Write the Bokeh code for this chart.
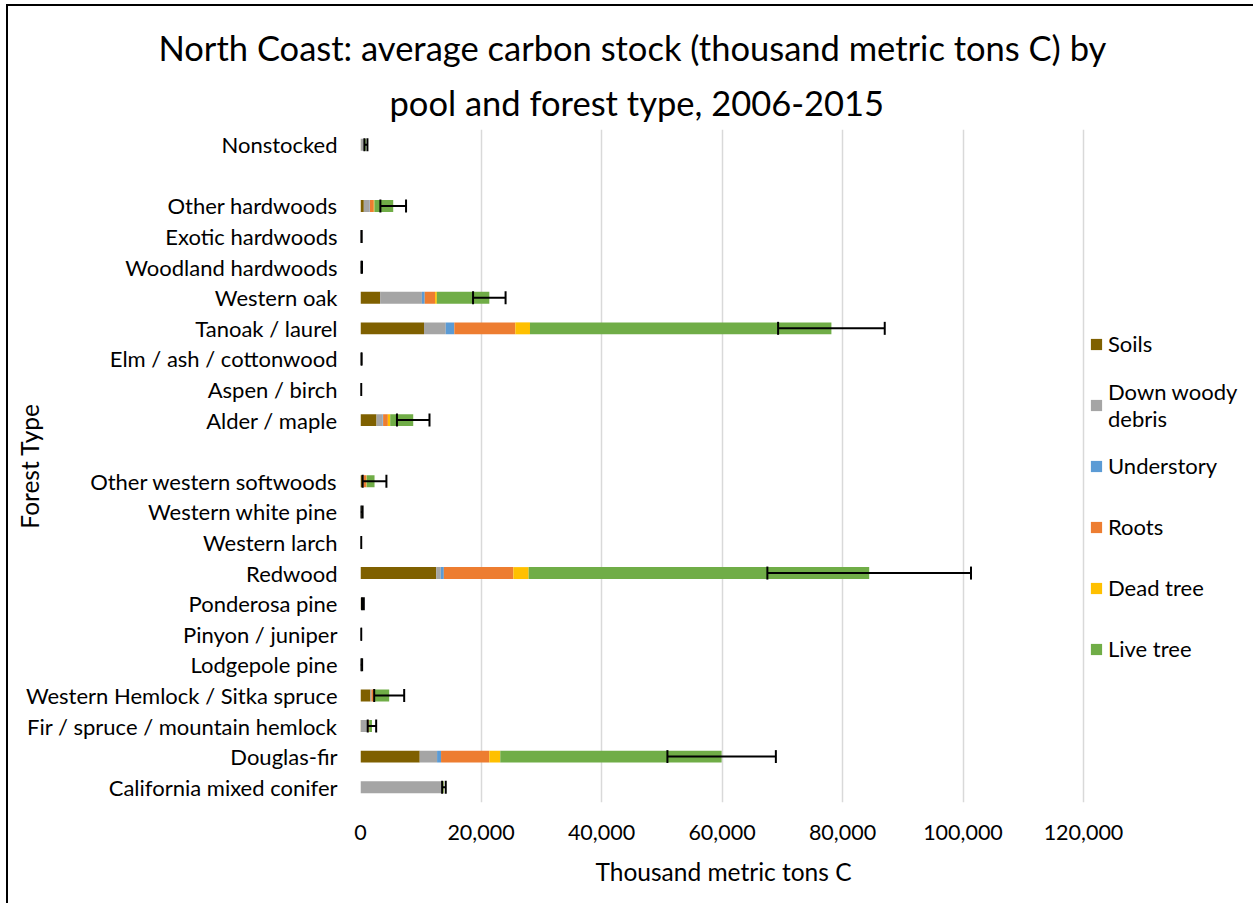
from bokeh.plotting import figure
from bokeh.models import (FactorRange, Range1d, FixedTicker, NumeralTickFormatter,
                          Whisker, ColumnDataSource, Legend, LegendItem, Title, TeeHead)
from bokeh.embed import file_html
from bokeh.resources import INLINE

# Forest types, top to bottom (" " and "  " are the empty spacer rows)
categories = ["Nonstocked", " ", "Other hardwoods", "Exotic hardwoods", "Woodland hardwoods",
              "Western oak", "Tanoak / laurel", "Elm / ash / cottonwood", "Aspen / birch",
              "Alder / maple", "  ", "Other western softwoods", "Western white pine",
              "Western larch", "Redwood", "Ponderosa pine", "Pinyon / juniper", "Lodgepole pine",
              "Western Hemlock / Sitka spruce", "Fir / spruce / mountain hemlock",
              "Douglas-fir", "California mixed conifer"]

pools = ["Soils", "Down woody debris", "Understory", "Roots", "Dead tree", "Live tree"]

soils      = [30, 0, 550, 10, 20, 3260, 10540, 10, 10, 2660, 0, 300, 20, 10, 12560, 60, 10, 20, 1660, 50, 9830, 0]
dwd        = [640, 0, 950, 90, 60, 6930, 3610, 90, 60, 990, 0, 150, 80, 60, 760, 150, 60, 60, 100, 1170, 2880, 13550]
understory = [10, 0, 60, 5, 5, 470, 1420, 5, 5, 100, 0, 30, 10, 5, 510, 10, 5, 5, 50, 30, 660, 20]
roots      = [60, 0, 650, 10, 20, 1720, 10130, 15, 10, 790, 0, 500, 30, 10, 11540, 60, 10, 20, 400, 120, 8010, 130]
dead_tree  = [20, 0, 100, 5, 5, 290, 2430, 5, 5, 390, 0, 50, 10, 5, 2540, 20, 5, 5, 50, 80, 1820, 50]
live_tree  = [140, 0, 3120, 20, 40, 8710, 50030, 25, 10, 3820, 0, 1300, 50, 10, 56520, 100, 10, 40, 2500, 450, 36740, 100]
error      = [250, 0, 2130, 60, 100, 2700, 8850, 30, 20, 2700, 0, 1970, 150, 20, 16900, 150, 20, 120, 2490, 700, 9000, 300]

x_ticks = [0, 20000, 40000, 60000, 80000, 100000, 120000]
colors = ["#7F6000", "#A5A5A5", "#5B9BD5", "#ED7D31", "#FFC000", "#70AD47"]

FONT = "Lato"

data = {"cat": categories, "Soils": soils, "Down woody debris": dwd, "Understory": understory,
        "Roots": roots, "Dead tree": dead_tree, "Live tree": live_tree}
source = ColumnDataSource(data)

# plot area 0..120,000 spans 723 px; the frame continues to the right edge to hold the legend
AXIS_PX = 723.0
FRAME_PX = 1253 - 360
x_end = x_ticks[-1] * FRAME_PX / AXIS_PX

p = figure(width=1253, height=903, output_backend="svg", toolbar_location=None,
           y_range=FactorRange(factors=list(reversed(categories))),
           x_range=Range1d(0, x_end),
           min_border_left=360, min_border_right=0, min_border_top=129, min_border_bottom=101)
p.outline_line_color = None
p.background_fill_color = "white"
p.border_fill_alpha = 0
p.styles = {"background": "linear-gradient(#000,#000) 6px 4px / 2px 2000px no-repeat, "
                          "linear-gradient(#000,#000) 6px 4px / 2000px 2px no-repeat, white"}

# title: two lines
p.title.text = "North Coast: average carbon stock (thousand metric tons C) by"
p.title.align = "left"
p.title.offset = -202
p.title.text_font = FONT
p.title.text_font_size = "34.5px"
p.title.text_font_style = "normal"
p.title.text_color = "black"
p.title.standoff = -4
p.add_layout(Title(text="pool and forest type, 2006-2015",
                   align="left", offset=29, text_font=FONT, text_font_size="34.5px",
                   text_font_style="normal", text_color="black", standoff=14), "above")
p.add_layout(Title(text=" ", text_font_size="4px", standoff=0), "above")

renderers = p.hbar_stack(pools, y="cat", height=0.39, color=colors, source=source, line_color=None)

totals = [a + b + c + d + e + f for a, b, c, d, e, f in zip(soils, dwd, understory, roots, dead_tree, live_tree)]
wcat, lo, hi = [], [], []
for c, t, e in zip(categories, totals, error):
    if e > 0:
        wcat.append(c)
        lo.append(t - e)
        hi.append(t + e)
wsrc = ColumnDataSource({"cat": wcat, "lower": lo, "upper": hi})
wh = Whisker(base="cat", lower="lower", upper="upper", dimension="width", source=wsrc,
             line_color="black", line_width=2, level="annotation",
             upper_head=TeeHead(size=13, line_width=2, line_color="black"),
             lower_head=TeeHead(size=13, line_width=2, line_color="black"))
p.add_layout(wh)

# axes
p.xaxis.ticker = FixedTicker(ticks=x_ticks)
p.xaxis.formatter = NumeralTickFormatter(format="0,0")
p.xaxis.axis_line_color = None
p.xaxis.major_tick_line_color = None
p.xaxis.minor_tick_line_color = None
p.xaxis.major_label_text_font = FONT
p.xaxis.major_label_text_font_size = "21.5px"
p.xaxis.major_label_text_color = "black"
p.xaxis.major_label_standoff = 16
p.add_layout(Title(text="Thousand metric tons C", align="left", offset=235,
                   text_font=FONT, text_font_size="24.5px", text_font_style="normal",
                   text_color="black", standoff=24), "below")

p.yaxis.axis_line_color = None
p.yaxis.major_tick_line_color = None
p.yaxis.minor_tick_line_color = None
p.yaxis.major_label_text_font = FONT
p.yaxis.major_label_text_font_size = "22px"
p.yaxis.major_label_text_color = "black"
p.yaxis.major_label_standoff = 17
p.yaxis.axis_label = "Forest Type"
p.yaxis.axis_label_text_font = FONT
p.yaxis.axis_label_text_font_size = "24.5px"
p.yaxis.axis_label_text_font_style = "normal"
p.yaxis.axis_label_text_color = "black"
p.yaxis.axis_label_standoff = -21

p.xgrid.grid_line_color = "#D9D9D9"
p.xgrid.grid_line_width = 1.5
p.ygrid.grid_line_color = None

legend_labels = ["Soils", "Down woody\ndebris", "Understory", "Roots", "Dead tree", "Live tree"]
items = [LegendItem(label=l, renderers=[r]) for l, r in zip(legend_labels, renderers)]
legend = Legend(items=items, location=(729, 125), orientation="vertical",
                glyph_width=14, glyph_height=14, label_height=57, spacing=4,
                label_standoff=5, padding=0, margin=0, border_line_color=None,
                background_fill_alpha=0, label_text_font=FONT, label_text_font_size="22px",
                label_text_line_height=1.3, label_text_color="black")
p.add_layout(legend)

open("out.html", "w").write(file_html(p, INLINE))
